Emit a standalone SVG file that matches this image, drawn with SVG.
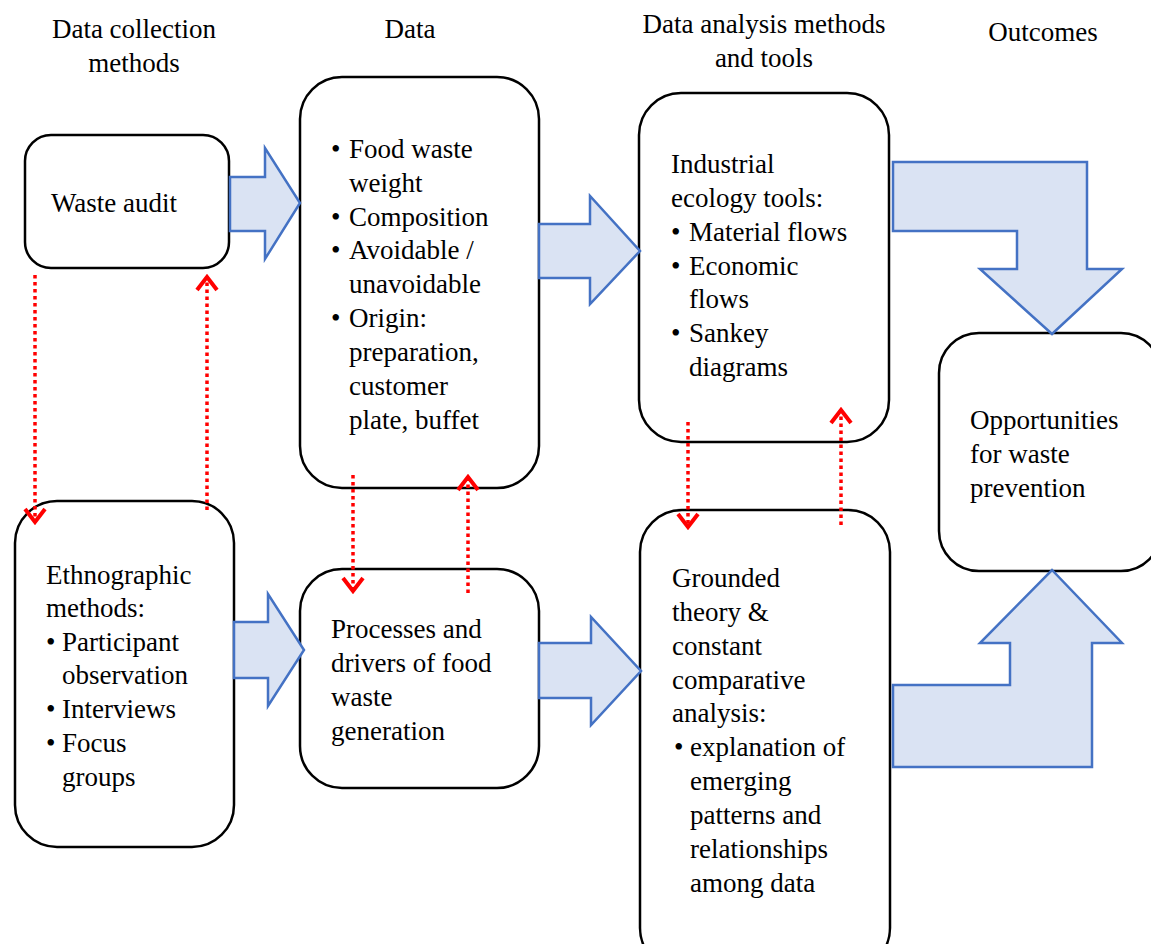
<svg xmlns="http://www.w3.org/2000/svg" width="1151" height="944" viewBox="0 0 1151 944">
<defs>
<style>
.box{fill:#fff;stroke:#000;stroke-width:2.5}
.arr{fill:#dae3f3;stroke:#4472c4;stroke-width:2.5;stroke-linejoin:miter}
.dot{fill:none;stroke:#ff0000;stroke-width:3.5;stroke-dasharray:3.5 3.5}
text{font-size:27px;fill:#000}
.c{text-anchor:middle}
</style>
<marker id="v" viewBox="-16 -13 19 26" markerWidth="19" markerHeight="26" refX="0" refY="0" orient="auto" markerUnits="userSpaceOnUse">
<path d="M-13,-10 L0,0 L-13,10" fill="none" stroke="#ff0000" stroke-width="4"/>
</marker>
</defs>
<rect width="1151" height="944" fill="#fff"/>
<g font-family="'Liberation Serif', 'DejaVu Serif', serif">

<g id="headers">
<text class="c" x="134" y="38">Data collection</text>
<text class="c" x="134" y="72">methods</text>
<text class="c" x="410" y="38">Data</text>
<text class="c" x="764" y="33">Data analysis methods</text>
<text class="c" x="764" y="67">and tools</text>
<text class="c" x="1043" y="41">Outcomes</text>
</g>

<g id="waste-audit">
<rect class="box" x="25" y="135" width="204" height="133" rx="26"/>
<text x="51" y="212">Waste audit</text>
</g>

<g id="data">
<rect class="box" x="300" y="77" width="239" height="411" rx="42"/>
<text x="331" y="158">•</text><text x="349" y="158">Food waste</text>
<text x="349" y="192">weight</text>
<text x="331" y="226">•</text><text x="349" y="226">Composition</text>
<text x="331" y="259">•</text><text x="349" y="259">Avoidable /</text>
<text x="349" y="293">unavoidable</text>
<text x="331" y="327">•</text><text x="349" y="327">Origin:</text>
<text x="349" y="361">preparation,</text>
<text x="349" y="395">customer</text>
<text x="349" y="429">plate, buffet</text>
</g>

<g id="industrial">
<rect class="box" x="639" y="93" width="250" height="349" rx="42"/>
<text x="671" y="173">Industrial</text>
<text x="671" y="207">ecology tools:</text>
<text x="671" y="241">•</text><text x="689" y="241">Material flows</text>
<text x="671" y="275">•</text><text x="689" y="275">Economic</text>
<text x="689" y="308">flows</text>
<text x="671" y="342">•</text><text x="689" y="342">Sankey</text>
<text x="689" y="376">diagrams</text>
</g>

<g id="opportunities">
<rect class="box" x="939" y="333" width="222" height="238" rx="40"/>
<text x="970" y="429">Opportunities</text>
<text x="970" y="463">for waste</text>
<text x="970" y="497">prevention</text>
</g>

<g id="ethnographic">
<rect class="box" x="15" y="501" width="219" height="346" rx="42"/>
<text x="46" y="584">Ethnographic</text>
<text x="46" y="617">methods:</text>
<text x="46" y="651">•</text><text x="62" y="651">Participant</text>
<text x="62" y="684">observation</text>
<text x="46" y="718">•</text><text x="62" y="718">Interviews</text>
<text x="46" y="752">•</text><text x="62" y="752">Focus</text>
<text x="62" y="786">groups</text>
</g>

<g id="processes">
<rect class="box" x="300" y="569" width="239" height="219" rx="42"/>
<text x="331" y="638">Processes and</text>
<text x="331" y="672">drivers of food</text>
<text x="331" y="706">waste</text>
<text x="331" y="740">generation</text>
</g>

<g id="grounded">
<rect class="box" x="640" y="510" width="250" height="460" rx="42"/>
<text x="672" y="587">Grounded</text>
<text x="672" y="621">theory &amp;</text>
<text x="672" y="655">constant</text>
<text x="672" y="689">comparative</text>
<text x="672" y="722">analysis:</text>
<text x="674" y="756">•</text><text x="690" y="756">explanation of</text>
<text x="690" y="790">emerging</text>
<text x="690" y="824">patterns and</text>
<text x="690" y="858">relationships</text>
<text x="690" y="892">among data</text>
</g>
</g>

<g id="connectors">
<polygon class="arr" points="230,177 265,177 265,148 300,203 265,259 265,231 230,231"/>
<polygon class="arr" points="539,224 590,224 590,196 640,251 590,304 590,278 539,278"/>
<polygon class="arr" points="234,622 268,622 268,594 304,650 268,706 268,678 234,678"/>
<polygon class="arr" points="539,643 591,643 591,617 641,671 591,725 591,698 539,698"/>
<polygon class="arr" points="893,162 1087,162 1087,269 1122,269 1052,334 980,269 1017,269 1017,231 893,231"/>
<polygon class="arr" points="893,767 1092,767 1092,643 1122,643 1052,570 980,643 1010,643 1010,685 893,685"/>
<line class="dot" x1="35" y1="275" x2="35" y2="522" marker-end="url(#v)"/>
<line class="dot" x1="207" y1="510" x2="207" y2="277" marker-end="url(#v)"/>
<line class="dot" x1="353" y1="475" x2="353" y2="591" marker-end="url(#v)"/>
<line class="dot" x1="468" y1="593" x2="468" y2="477" marker-end="url(#v)"/>
<line class="dot" x1="688" y1="422" x2="688" y2="527" marker-end="url(#v)"/>
<line class="dot" x1="841" y1="525" x2="841" y2="410" marker-end="url(#v)"/>
</g>
</svg>
